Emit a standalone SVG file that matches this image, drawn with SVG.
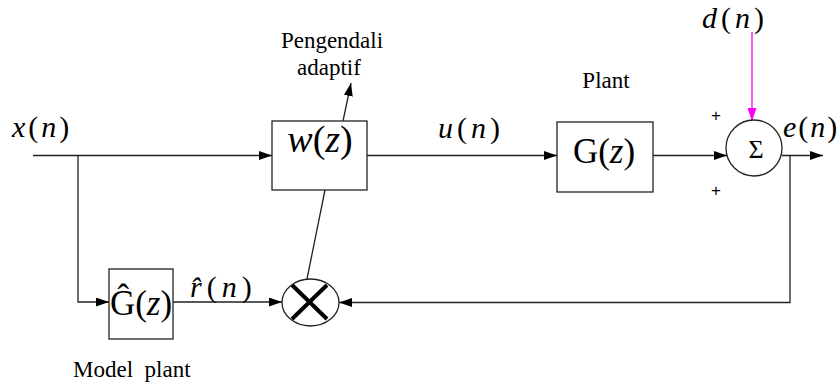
<svg xmlns="http://www.w3.org/2000/svg" width="839" height="389" viewBox="0 0 839 389">
<style>
.ln{stroke:#222;stroke-width:1.3;fill:none}
.bx{stroke:#222;stroke-width:1.3;fill:#fff}
.t{font-family:'Liberation Serif','DejaVu Serif',serif;fill:#000}
.i{font-style:italic}
.s{font-family:'Liberation Sans','DejaVu Sans',sans-serif;fill:#000}
</style>
<defs>
<marker id="ar" markerWidth="13" markerHeight="9" refX="13" refY="4.5" orient="auto" markerUnits="userSpaceOnUse">
<path d="M0,0 L13,4.5 L0,9 Z" fill="#000"/>
</marker>
<marker id="arm" markerWidth="13" markerHeight="9" refX="13" refY="4.5" orient="auto" markerUnits="userSpaceOnUse">
<path d="M0,0 L13,4.5 L0,9 Z" fill="#ff00ff"/>
</marker>
</defs>
<g id="connectors">
<path class="ln" d="M33,155.5 H272" marker-end="url(#ar)"/>
<path class="ln" d="M78,155.5 V302 H109" marker-end="url(#ar)"/>
<path class="ln" d="M367,155.5 H557" marker-end="url(#ar)"/>
<path class="ln" d="M653,155.5 H727" marker-end="url(#ar)"/>
<path class="ln" d="M782,155.5 H823" marker-end="url(#ar)"/>
<path class="ln" d="M790,155.5 V302.5 H339" marker-end="url(#ar)"/>
<path class="ln" d="M173,302 H282" marker-end="url(#ar)"/>
<path class="ln" d="M325,190 L307,279"/>
<path class="ln" d="M343,121 L351,83" marker-end="url(#ar)"/>
<path d="M752,32 V121" stroke="#ff00ff" stroke-width="1.3" fill="none" marker-end="url(#arm)"/>
</g>
<g id="wz">
<rect class="bx" x="272" y="121" width="95" height="69"/>
<text class="t" x="320" y="152" font-size="38" text-anchor="middle"><tspan class="i">w</tspan>(<tspan class="i">z</tspan>)</text>
</g>
<g id="gz">
<rect class="bx" x="557" y="122" width="96" height="70"/>
<text class="t" x="604" y="163" font-size="35" text-anchor="middle">G(<tspan class="i">z</tspan>)</text>
</g>
<g id="ghat">
<rect class="bx" x="109" y="269" width="64" height="70"/>
<text class="t" x="141" y="315" font-size="35" text-anchor="middle">Ĝ(<tspan class="i">z</tspan>)</text>
</g>
<g id="sum">
<circle cx="754" cy="148" r="28" fill="#fff" stroke="#222" stroke-width="1.3"/>
<text class="t" x="756" y="158" font-size="26" text-anchor="middle">Σ</text>
</g>
<g id="mult">
<ellipse cx="310.5" cy="302.5" rx="28.5" ry="23.5" fill="#fff" stroke="#222" stroke-width="1.3"/>
<path d="M292,285 L327,319 M327,285 L292,319" stroke="#000" stroke-width="4" fill="none"/>
</g>
<g id="labels">
<text class="t" x="12" y="137" font-size="30" letter-spacing="3"><tspan class="i">x</tspan>(<tspan class="i">n</tspan>)</text>
<text class="t" x="438" y="138" font-size="30" letter-spacing="4"><tspan class="i">u</tspan>(<tspan class="i">n</tspan>)</text>
<text class="t" x="702" y="28" font-size="30" letter-spacing="4"><tspan class="i">d</tspan>(<tspan class="i">n</tspan>)</text>
<text class="t" x="783" y="137" font-size="30" letter-spacing="2"><tspan class="i">e</tspan>(<tspan class="i">n</tspan>)</text>
<text class="t" x="190" y="297" font-size="30" letter-spacing="5"><tspan class="i">r̂</tspan>(<tspan class="i">n</tspan>)</text>
<text class="t" x="332" y="48" font-size="23" text-anchor="middle">Pengendali</text>
<text class="t" x="329" y="75" font-size="23" text-anchor="middle">adaptif</text>
<text class="t" x="606" y="88" font-size="23" text-anchor="middle">Plant</text>
<text class="t" x="73" y="377" font-size="23" xml:space="preserve">Model  plant</text>
<text class="s" x="716" y="121" font-size="17" text-anchor="middle">+</text>
<text class="s" x="716" y="196" font-size="17" text-anchor="middle">+</text>
</g>
</svg>
